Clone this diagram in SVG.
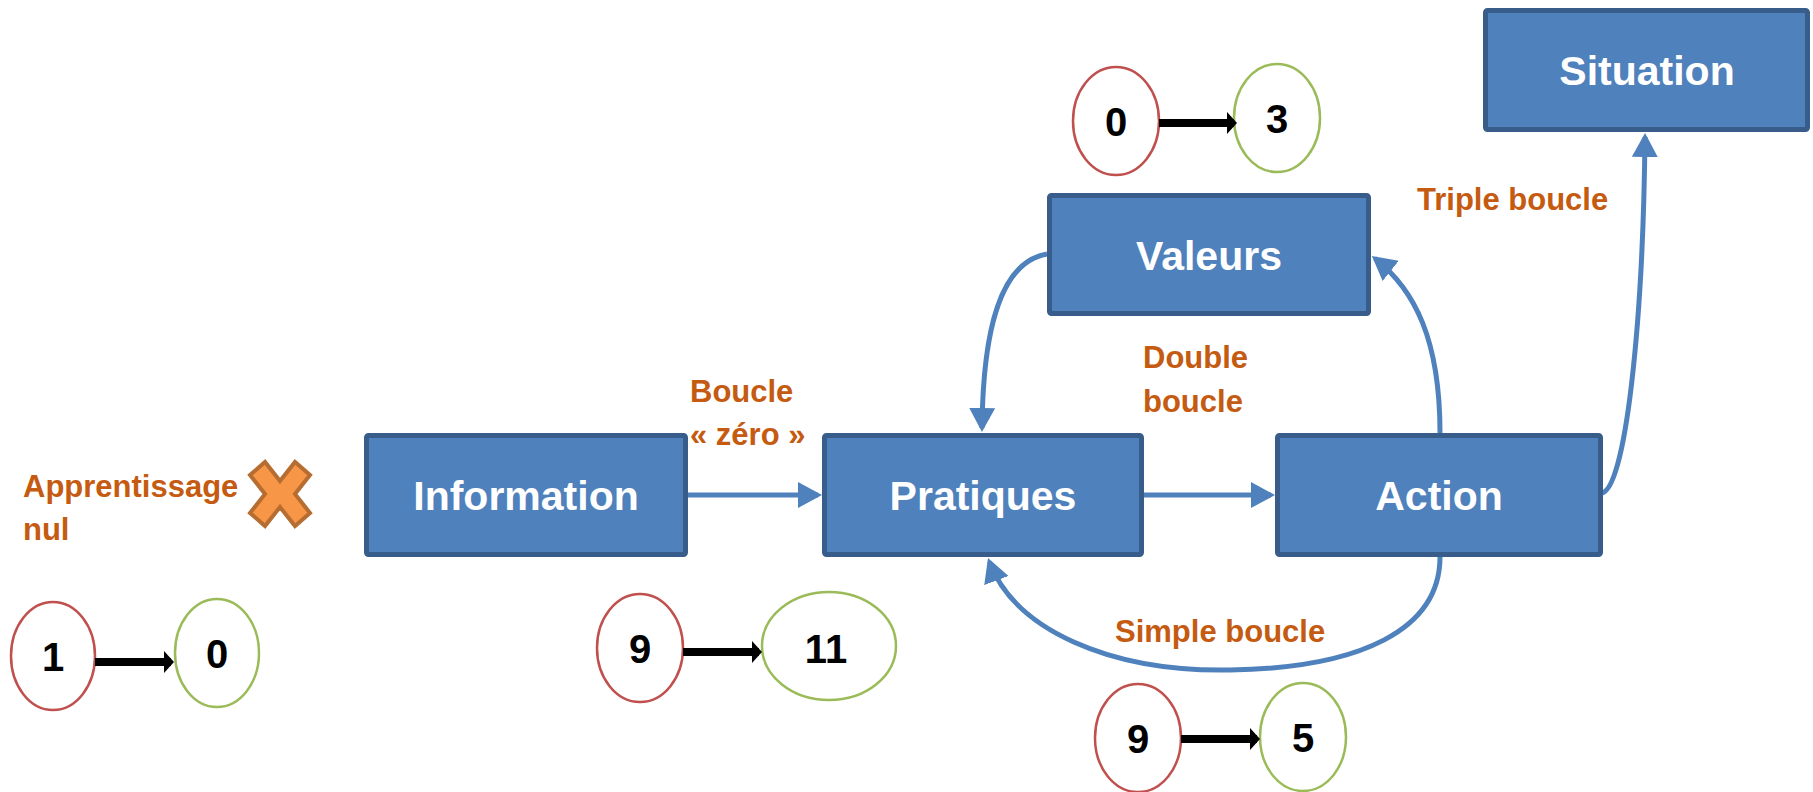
<svg xmlns="http://www.w3.org/2000/svg" width="1813" height="792" viewBox="0 0 1813 792">
<style>
.box{fill:#4F81BD;stroke:#385D8A;stroke-width:5;}
.bt{font-family:"Liberation Sans",Arial,sans-serif;font-weight:bold;font-size:41px;fill:#FFFFFF;text-anchor:middle;}
.lbl{font-family:"Liberation Sans",Arial,sans-serif;font-weight:bold;font-size:31px;fill:#C55A11;}
.num{font-family:"Liberation Sans",Arial,sans-serif;font-weight:bold;font-size:40px;fill:#000000;text-anchor:middle;}
.red{fill:#FFFFFF;stroke:#C0504D;stroke-width:2.5;}
.grn{fill:#FFFFFF;stroke:#9BBB59;stroke-width:2.5;}
.conn{fill:none;stroke:#4F81BD;stroke-width:5;marker-end:url(#ab);}
.blk{fill:none;stroke:#000000;stroke-width:8;marker-end:url(#ak);}
</style>
<defs>
<marker id="ab" markerUnits="userSpaceOnUse" viewBox="0 0 24 26" refX="20" refY="13" markerWidth="24" markerHeight="26" orient="auto">
<path d="M0,0 L24,13 L0,26 Z" fill="#4F81BD"/>
</marker>
<marker id="ak" markerUnits="userSpaceOnUse" viewBox="0 0 10 22" refX="7" refY="11" markerWidth="10" markerHeight="22" orient="auto">
<path d="M0,0 L10,11 L0,22 Z" fill="#000000"/>
</marker>
</defs>
<rect width="1813" height="792" fill="#FFFFFF"/>

<g id="connectors">
<path class="conn" d="M687,495 L818,495"/>
<path class="conn" d="M1144,495 L1271,495"/>
<path class="conn" d="M1047,254 C1000,262 983,330 982,428"/>
<path class="conn" d="M1440,433 C1440,340 1415,290 1375,258.5"/>
<path class="conn" d="M1602,493 C1625,488 1643,330 1645,137"/>
<path class="conn" d="M1440,557 C1440,630 1360,668 1230,670 C1110,672 1015,630 989.4,561.8"/>
</g>

<g id="information">
<rect class="box" x="366.5" y="435.5" width="319" height="119" rx="2"/>
<text class="bt" x="526" y="510">Information</text>
</g>
<g id="pratiques">
<rect class="box" x="824.5" y="435.5" width="317" height="119" rx="2"/>
<text class="bt" x="983" y="510">Pratiques</text>
</g>
<g id="action">
<rect class="box" x="1277.5" y="435.5" width="323" height="119" rx="2"/>
<text class="bt" x="1439" y="510">Action</text>
</g>
<g id="valeurs">
<rect class="box" x="1049.5" y="195.5" width="319" height="118" rx="2"/>
<text class="bt" x="1209" y="270">Valeurs</text>
</g>
<g id="situation">
<rect class="box" x="1485.5" y="10.5" width="322" height="119" rx="2"/>
<text class="bt" x="1647" y="85">Situation</text>
</g>

<g id="labels">
<text class="lbl" x="690" y="402">Boucle</text>
<text class="lbl" x="690" y="445">« zéro »</text>
<text class="lbl" x="1143" y="368">Double</text>
<text class="lbl" x="1143" y="412">boucle</text>
<text class="lbl" x="1417" y="210">Triple boucle</text>
<text class="lbl" x="1115" y="642">Simple boucle</text>
<text class="lbl" x="23" y="497">Apprentissage</text>
<text class="lbl" x="23" y="540">nul</text>
</g>

<g id="cross">
<polygon points="250,475 265,462 280,481 295,462 310,475 295,494 310,513 295,526 280,507 265,526 250,513 265,494" fill="#F79646" stroke="#B66D31" stroke-width="4" stroke-linejoin="miter"/>
</g>

<g id="counter-zero">
<ellipse class="red" cx="53" cy="656" rx="42" ry="54"/>
<ellipse class="grn" cx="217" cy="653" rx="42" ry="54"/>
<path class="blk" d="M95,662 L171,662"/>
<text class="num" x="53" y="671">1</text>
<text class="num" x="217" y="668">0</text>
</g>

<g id="counter-boucle-zero">
<ellipse class="red" cx="640" cy="648" rx="43" ry="54"/>
<ellipse class="grn" cx="829" cy="646" rx="67" ry="54"/>
<path class="blk" d="M683,652 L759,652"/>
<text class="num" x="640" y="663">9</text>
<text class="num" x="826" y="663">11</text>
</g>

<g id="counter-double">
<ellipse class="red" cx="1116" cy="121" rx="43" ry="54"/>
<ellipse class="grn" cx="1277" cy="118" rx="43" ry="54"/>
<path class="blk" d="M1159,123 L1234,123"/>
<text class="num" x="1116" y="136">0</text>
<text class="num" x="1277" y="133">3</text>
</g>

<g id="counter-simple">
<ellipse class="red" cx="1138" cy="738" rx="43" ry="54"/>
<ellipse class="grn" cx="1303" cy="737" rx="43" ry="54"/>
<path class="blk" d="M1181,739 L1257,739"/>
<text class="num" x="1138" y="753">9</text>
<text class="num" x="1303" y="752">5</text>
</g>
</svg>
